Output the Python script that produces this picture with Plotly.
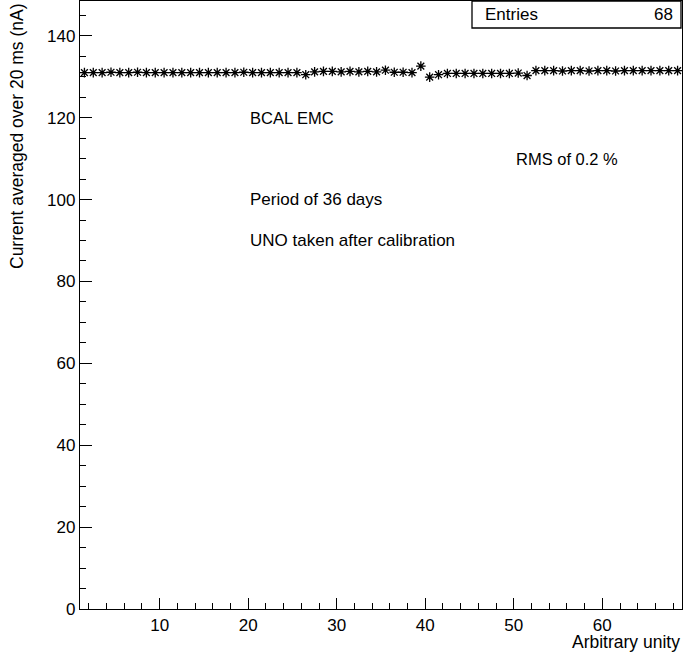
import plotly.graph_objects as go

# Data: 68 bins from 1 to 69, value at bin centers
bin_centers = [i + 0.5 for i in range(1, 69)]
currents = [
    131.0, 131.0, 131.0, 131.1, 131.0, 131.0, 131.1, 131.0, 131.0, 131.0,
    131.0, 131.0, 131.0, 131.0, 131.0, 131.0, 131.0, 131.0, 131.1, 131.0,
    131.0, 131.0, 131.0, 131.0, 131.0, 130.5, 131.2, 131.3, 131.3, 131.2,
    131.3, 131.2, 131.3, 131.2, 131.6, 131.1, 131.1, 131.0, 132.6, 129.9,
    130.5, 130.8, 130.8, 130.8, 130.8, 130.8, 130.8, 130.8, 130.8, 130.9,
    130.3, 131.5, 131.5, 131.5, 131.4, 131.5, 131.5, 131.4, 131.5, 131.5,
    131.4, 131.5, 131.5, 131.5, 131.5, 131.5, 131.5, 131.5,
]

text_labels = ["BCAL EMC", "Period of 36 days", "UNO taken after calibration"]
text_sizes = [16.5, 17, 17]
text_x = [20, 20, 20]
text_y = [120, 100, 90]
rms_label = "RMS of 0.2 %"
rms_x, rms_y = 50, 110

x_title = "Arbitrary unity"
y_title = "Current averaged over 20 ms (nA)"
entries = len(currents)

FONT = "Liberation Sans, Arial, sans-serif"
PW = 602.0  # plot width in px
PH = 608.0  # plot height in px

fig = go.Figure()
fig.add_trace(go.Scatter(
    x=bin_centers, y=currents, mode="markers",
    marker=dict(symbol="asterisk-open", size=8, color="black",
                line=dict(color="black", width=1.3)),
    showlegend=False, hoverinfo="x+y",
))

for t, s, xx, yy in zip(text_labels, text_sizes, text_x, text_y):
    fig.add_annotation(x=xx, y=yy, text=t, showarrow=False,
                       xanchor="left", yanchor="middle",
                       font=dict(family=FONT, size=s, color="black"))
fig.add_annotation(x=rms_x, y=rms_y, text=rms_label, showarrow=False,
                   xanchor="left", yanchor="middle",
                   font=dict(family=FONT, size=16.5, color="black"))

# Axis titles (ROOT style, right/top aligned)
fig.add_annotation(xref="paper", yref="paper", x=1.0, y=-21 / PH,
                   text=x_title, showarrow=False, xanchor="right", yanchor="top",
                   font=dict(family=FONT, size=17.5, color="black"))
fig.add_annotation(xref="paper", yref="paper", x=-63 / PW, y=1.0,
                   text=y_title, showarrow=False, textangle=-90,
                   xanchor="center", yanchor="top",
                   font=dict(family=FONT, size=17.5, color="black"))

# Stats box
fig.add_shape(type="rect", xref="paper", yref="paper",
              x0=(472 - 80) / PW, x1=(681 - 80) / PW, y0=1 - 27 / PH, y1=1.0,
              line=dict(color="black", width=1.3), fillcolor="white", layer="above")
fig.add_annotation(xref="paper", yref="paper", x=(483 - 80) / PW, y=1 - 14 / PH,
                   text="Entries", showarrow=False, xanchor="left", yanchor="middle",
                   font=dict(family=FONT, size=17, color="black"))
fig.add_annotation(xref="paper", yref="paper", x=(675 - 80) / PW, y=1 - 14 / PH,
                   text=str(entries), showarrow=False, xanchor="right", yanchor="middle",
                   font=dict(family=FONT, size=17, color="black"))

fig.update_xaxes(
    range=[1, 69], tickmode="linear", tick0=0, dtick=10,
    ticks="inside", ticklen=11, tickwidth=1.3, tickcolor="black",
    minor=dict(tickmode="linear", tick0=0, dtick=2, ticks="inside", ticklen=6,
               tickwidth=1.3, tickcolor="black", showgrid=False),
    showline=True, linecolor="black", linewidth=1.3, mirror=True,
    showgrid=False, zeroline=False,
    tickfont=dict(family=FONT, size=17, color="black"),
)
fig.update_yaxes(
    range=[0, 148.5], tickmode="linear", tick0=0, dtick=20,
    ticks="inside", ticklen=12, tickwidth=1.3, tickcolor="black",
    minor=dict(tickmode="linear", tick0=0, dtick=5, ticks="inside", ticklen=6,
               tickwidth=1.3, tickcolor="black", showgrid=False),
    showline=True, linecolor="black", linewidth=1.3, mirror=True,
    showgrid=False, zeroline=False,
    tickfont=dict(family=FONT, size=17, color="black"),
)

fig.update_layout(
    width=683, height=656,
    margin=dict(l=80, r=1, t=1, b=47),
    paper_bgcolor="white", plot_bgcolor="white",
    font=dict(family=FONT, size=15, color="black"),
)

fig.write_html("out.html", config={"displayModeBar": False},
               post_script="document.body.style.margin='0';document.body.style.overflow='hidden';")
